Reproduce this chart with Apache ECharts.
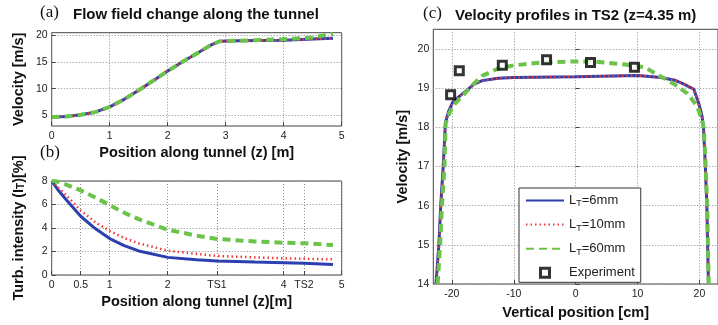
<!DOCTYPE html>
<html>
<head>
<meta charset="utf-8">
<script src="https://cdn.jsdelivr.net/npm/echarts@6/dist/echarts.min.js"></script>
<style>
html,body{margin:0;padding:0;background:#fff;}
#chart{width:718px;height:325px;}
</style>
</head>
<body>
<div id="chart"></div>
<script>
// ---------- Panel (a): velocity along tunnel ----------
const zA    = [0, 0.25, 0.5, 0.75, 1, 1.25, 1.5, 1.75, 2, 2.25, 2.5, 2.75, 2.9, 3.25, 3.5, 4, 4.5, 4.85];
const vA6   = [4.7, 4.8, 5.1, 5.6, 6.6, 8.0, 9.7, 11.5, 13.3, 15.0, 16.6, 18.2, 18.9, 19.0, 19.05, 19.1, 19.3, 19.45];
const vA10  = [4.7, 4.8, 5.1, 5.6, 6.6, 8.0, 9.7, 11.5, 13.3, 15.0, 16.6, 18.2, 18.9, 19.0, 19.05, 19.1, 19.3, 19.45];
const vA60  = [4.7, 4.8, 5.1, 5.6, 6.6, 8.0, 9.7, 11.5, 13.3, 15.0, 16.6, 18.2, 18.9, 19.0, 19.1, 19.3, 19.6, 20.3];
const aXTicks = [0, 1, 2, 3, 4, 5];
const aYTicks = [5, 10, 15, 20];

// ---------- Panel (b): turbulence intensity along tunnel ----------
const zB    = [0, 0.1, 0.25, 0.5, 0.75, 1, 1.25, 1.5, 2, 2.5, 2.85, 3.5, 4, 4.35, 4.85];
const iB6   = [8, 7.3, 6.4, 5.0, 3.95, 3.1, 2.5, 2.05, 1.5, 1.3, 1.2, 1.1, 1.05, 1.0, 0.9];
const iB10  = [8, 7.5, 6.8, 5.5, 4.5, 3.75, 3.15, 2.7, 2.07, 1.8, 1.62, 1.5, 1.42, 1.38, 1.33];
const iB60  = [8, 7.95, 7.7, 7.2, 6.6, 5.95, 5.3, 4.75, 3.85, 3.35, 3.07, 2.85, 2.75, 2.7, 2.55];
const bXTickVals   = [0, 0.5, 1, 2, 2.85, 4, 4.35, 5];
const bXTickLabels = ['0', '0.5', '1', '2', 'TS1', '4', 'TS2', '5'];
const bYTicks = [0, 2, 4, 6, 8];

// ---------- Panel (c): velocity profiles in TS2 ----------
const yC6   = [-22.57, -22.1, -21.8, -21.4, -21.04, -20.5, -19.85, -18.8, -17.7, -16.4, -15.1, -12.5, -10, 0, 10, 13.8, 16, 17.5, 19.1, 19.9, 20.4, 20.65, 20.9, 21.2, 21.45];
const uC6   = [14, 15, 16, 17, 18.12, 18.42, 18.64, 18.79, 18.93, 19.1, 19.19, 19.25, 19.27, 19.29, 19.32, 19.27, 19.2, 19.1, 18.97, 18.6, 18.3, 18.0, 17.2, 16, 14];
const yC10  = [-22.57, -22.1, -21.8, -21.4, -21.04, -20.5, -19.85, -18.8, -17.7, -16.4, -15.1, -12.5, -10, 0, 10, 13.8, 16, 17.5, 19.1, 19.9, 20.4, 20.65, 20.9, 21.2, 21.45];
const uC10  = [14, 15, 16, 17, 18.12, 18.42, 18.64, 18.79, 18.93, 19.1, 19.19, 19.25, 19.27, 19.29, 19.32, 19.27, 19.2, 19.1, 18.97, 18.6, 18.3, 18.0, 17.2, 16, 14];
const yC60  = [-22.3, -21.9, -21.6, -21.2, -21.0, -20.3, -19.8, -18.8, -17.7, -16.4, -15.1, -12.5, -10, -5, 0, 3.3, 8, 11.2, 12.8, 15.95, 18.05, 19.6, 20.4, 20.7, 20.95, 21.25, 21.5];
const uC60  = [14, 15, 16, 17, 18.1, 18.4, 18.55, 18.72, 18.9, 19.12, 19.31, 19.5, 19.58, 19.66, 19.68, 19.67, 19.6, 19.53, 19.38, 19.1, 18.86, 18.55, 18.2, 17.98, 17.2, 16, 14];
const yExp  = [-20.2, -18.8, -11.85, -4.7, 2.4, 9.5];
const uExp  = [18.83, 19.44, 19.58, 19.72, 19.65, 19.53];
const cXTicks = [-20, -10, 0, 10, 20];
const cYTicks = [14, 15, 16, 17, 18, 19, 20];

const legendNames = ['LT6', 'LT10', 'LT60', 'Experiment'];
const legendLabels = ['6', '10', '60'];

// ---------- styling ----------
const SANS = '"Liberation Sans", Arial, sans-serif';
const SERIF = '"Liberation Serif", "Times New Roman", serif';
const BLUE = '#2b3fae', RED = '#ef3b3b', GREEN = '#6cc34a';
const FRAME = '#444', GRIDC = '#8a8a8a';
const NAMEFS = 14.5;

function pairs(xs, ys) { return xs.map((x, i) => [x, ys[i]]); }

const nameStyle = {
  fontFamily: SANS, fontSize: NAMEFS, fontWeight: 'bold', color: '#111',
  rich: {
    n: { fontFamily: SANS, fontSize: NAMEFS, fontWeight: 'bold', color: '#111', lineHeight: 16 },
    s: { fontFamily: SANS, fontSize: 10, fontWeight: 'bold', color: '#111', lineHeight: 6, verticalAlign: 'bottom' }
  }
};
const tickLabel = { fontFamily: SANS, fontSize: 10.5, color: '#222' };

function valAxis(gridIndex, min, max, ticks, extra) {
  return Object.assign({
    type: 'value', gridIndex, min, max,
    axisLine: { show: false },
    axisTick: { show: true, inside: true, length: 4, lineStyle: { color: FRAME }, customValues: ticks },
    axisLabel: Object.assign({ customValues: ticks, margin: 4 }, tickLabel),
    splitLine: { show: true, lineStyle: { color: GRIDC, type: [1, 2], width: 1 } },
    nameLocation: 'middle', nameTextStyle: nameStyle
  }, extra || {});
}

function lineSeries(name, xi, yi, data, kind) {
  const s = {
    name, type: 'line', xAxisIndex: xi, yAxisIndex: yi, data,
    symbol: 'none', showSymbol: false, smooth: false, animation: false,
    lineStyle: {}
  };
  if (kind === 6) s.lineStyle = { color: BLUE, width: 3, type: 'solid' };
  if (kind === 10) s.lineStyle = { color: RED, width: 2.5, type: [1.5, 3] };
  if (kind === 60) s.lineStyle = { color: GREEN, width: 4, type: [8, 5] };
  s.itemStyle = { color: s.lineStyle.color };
  return s;
}

const option = {
  animation: false,
  backgroundColor: '#fff',
  title: [
    { text: '(a)', left: 40, top: 4, padding: 0, textStyle: { fontFamily: SERIF, fontSize: 17, fontWeight: 'normal', color: '#111' } },
    { text: 'Flow field change along the tunnel', left: 73, top: 7, padding: 0, textStyle: { fontFamily: SANS, fontSize: 15, fontWeight: 'bold', color: '#111' } },
    { text: '(b)', left: 40, top: 144, padding: 0, textStyle: { fontFamily: SERIF, fontSize: 17, fontWeight: 'normal', color: '#111' } },
    { text: '(c)', left: 423, top: 5, padding: 0, textStyle: { fontFamily: SERIF, fontSize: 17, fontWeight: 'normal', color: '#111' } },
    { text: 'Velocity profiles in TS2 (z=4.35 m)', left: 455, top: 8, padding: 0, textStyle: { fontFamily: SANS, fontSize: 15, fontWeight: 'bold', color: '#111' } }
  ],
  grid: [
    { left: 51.7, top: 32.7, width: 290, height: 93.3, show: true, borderColor: FRAME, borderWidth: 1, backgroundColor: '#fff' },
    { left: 51.7, top: 181, width: 290, height: 94, show: true, borderColor: FRAME, borderWidth: 1, backgroundColor: '#fff' },
    { left: 433.3, top: 29.3, width: 291.7, height: 257.4, show: true, borderColor: FRAME, borderWidth: 1, backgroundColor: '#fff' }
  ],
  xAxis: [
    valAxis(0, 0, 5, aXTicks, { name: 'Position along tunnel (z) [m]', nameGap: 19, axisLabel: Object.assign({ customValues: aXTicks, margin: 5 }, tickLabel) }),
    valAxis(1, 0, 5, bXTickVals, {
      name: 'Position along tunnel (z)[m]', nameGap: 19,
      axisLabel: Object.assign({ customValues: bXTickVals, margin: 5,
        formatter: v => { const i = bXTickVals.indexOf(v); return i >= 0 ? bXTickLabels[i] : ''; } }, tickLabel)
    }),
    valAxis(2, -23, 23, cXTicks, { name: 'Vertical position [cm]', nameGap: 21, axisLabel: Object.assign({ customValues: cXTicks, margin: 5 }, tickLabel) })
  ],
  yAxis: [
    valAxis(0, 3, 20.5, aYTicks, { name: 'Velocity [m/s]', nameGap: 25 }),
    valAxis(1, 0, 8, bYTicks, { name: '{n|Turb. intensity (I}{s|T}{n|)[%]}', nameGap: 25 }),
    valAxis(2, 14, 20.5, cYTicks, { name: 'Velocity [m/s]', nameGap: 23 })
  ],
  legend: {
    data: [
      { name: 'LT6', itemStyle: { opacity: 0 } },
      { name: 'LT10', itemStyle: { opacity: 0 } },
      { name: 'LT60', itemStyle: { opacity: 0 } },
      { name: 'Experiment', icon: 'path://M0,0L10,0L10,10L0,10Z', symbolKeepAspect: true,
        itemStyle: { color: '#fff', borderColor: '#000', borderWidth: 3 } }
    ],
    symbolKeepAspect: true,
    orient: 'vertical', left: 519, top: 188,
    itemWidth: 38, itemHeight: 9, itemGap: 9.6, itemTextGap: 3,
    padding: [6, 6, 3, 6],
    borderColor: '#333', borderWidth: 1, backgroundColor: '#fff',
    selectedMode: false,
    formatter: name => {
      const i = legendNames.indexOf(name);
      if (i === 3) return '{e|Experiment}';
      return '{n|L}{s|T}{n|=' + legendLabels[i] + 'mm}';
    },
    textStyle: {
      fontFamily: SANS, fontSize: 13, color: '#222',
      rich: {
        n: { fontFamily: SANS, fontSize: 13, color: '#222', lineHeight: 16 },
        s: { fontFamily: SANS, fontSize: 9, color: '#222', lineHeight: 5, verticalAlign: 'bottom' },
        e: { fontFamily: SANS, fontSize: 13, color: '#222', lineHeight: 16 }
      }
    }
  },
  series: [
    lineSeries('a6', 0, 0, pairs(zA, vA6), 6),
    lineSeries('a10', 0, 0, pairs(zA, vA10), 10),
    lineSeries('a60', 0, 0, pairs(zA, vA60), 60),
    lineSeries('b6', 1, 1, pairs(zB, iB6), 6),
    lineSeries('b10', 1, 1, pairs(zB, iB10), 10),
    lineSeries('b60', 1, 1, pairs(zB, iB60), 60),
    lineSeries('LT6', 2, 2, pairs(yC6, uC6), 6),
    lineSeries('LT10', 2, 2, pairs(yC10, uC10), 10),
    lineSeries('LT60', 2, 2, pairs(yC60, uC60), 60),
    {
      name: 'Experiment', type: 'scatter', xAxisIndex: 2, yAxisIndex: 2,
      data: pairs(yExp, uExp), symbol: 'rect', symbolSize: 8,
      itemStyle: { color: '#fff', borderColor: '#000', borderWidth: 3 },
      z: 5
    }
  ]
};

const chart = echarts.init(document.getElementById('chart'), null, { renderer: 'canvas' });
chart.setOption(option);
</script>
</body>
</html>
